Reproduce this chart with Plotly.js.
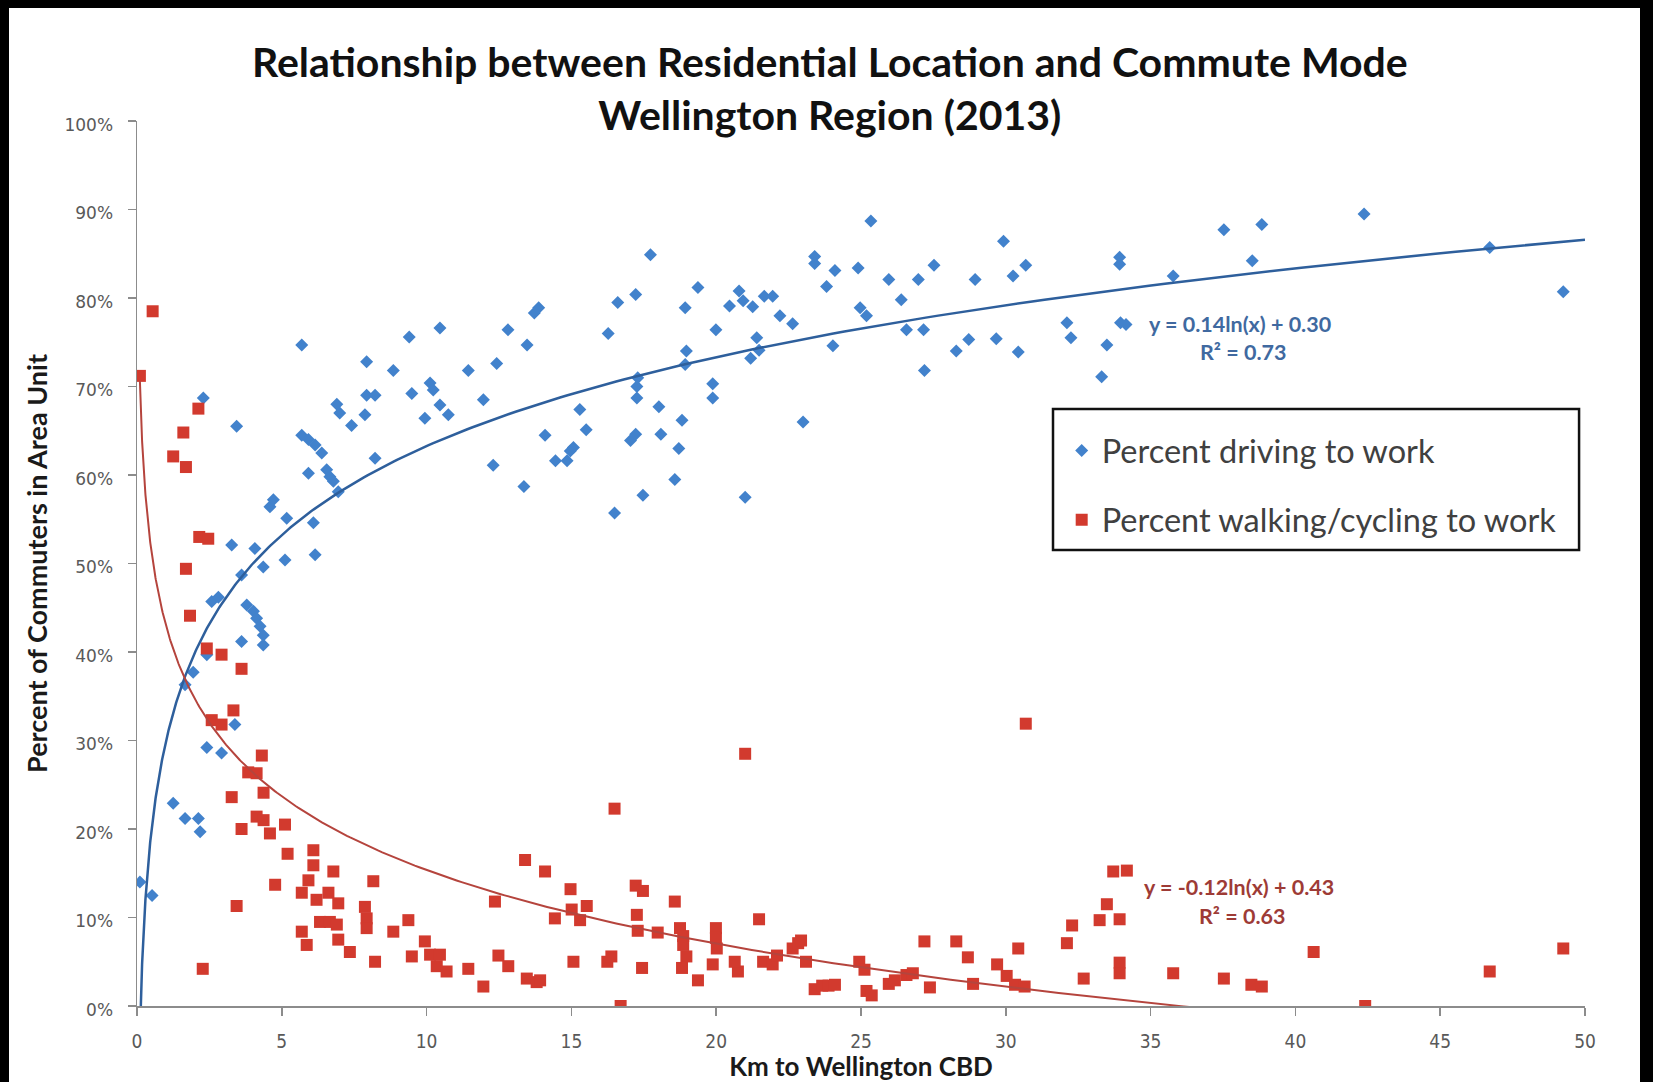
<!DOCTYPE html>
<html>
<head>
<meta charset="utf-8">
<script src="https://cdn.plot.ly/plotly-3.0.1.min.js"></script>
<style>
  html, body { margin: 0; padding: 0; background: #000; width: 1653px; height: 1082px; overflow: hidden; }
  #sheet { position: absolute; left: 9px; top: 8px; width: 1631px; height: 1074px; background: #fff; }
  #chart { position: absolute; left: 0; top: 0; width: 1653px; height: 1082px; }
</style>
</head>
<body>
<div id="sheet"></div>
<div id="chart"></div>
<script>
// Distance of each area unit from the Wellington CBD (km) and share of commuters who drive
const driveKm = [
  0.10, 0.52, 1.25, 1.66, 2.12, 2.18, 1.66, 1.94, 2.41, 2.92, 3.38, 2.41, 3.61, 4.36, 3.79, 4.02,
  4.13, 4.25, 4.36, 2.58, 2.81, 3.61, 3.27, 4.36, 4.07, 5.11, 6.15, 6.09, 5.17, 4.59, 4.71, 5.69,
  5.92, 6.15, 6.38, 5.92, 6.55, 6.66, 6.78, 6.95, 2.29, 3.44, 5.69, 6.90, 7.00, 7.41, 7.87, 7.93,
  8.22, 7.93, 8.85, 9.40, 9.49, 10.12, 10.23, 9.94, 10.46, 10.75, 10.46, 11.44, 11.96, 12.42, 12.30, 8.22,
  12.81, 13.47, 13.36, 13.72, 13.87, 14.09, 14.45, 14.85, 14.96, 15.07, 15.29, 15.51, 16.27, 16.49, 16.60, 17.22,
  17.04, 17.22, 17.26, 17.29, 17.26, 17.47, 17.73, 18.02, 18.09, 18.57, 18.71, 18.82, 18.93, 18.97, 18.93, 19.37,
  19.88, 19.88, 19.99, 20.46, 20.79, 20.93, 21.00, 21.26, 21.19, 21.40, 21.48, 21.66, 21.95, 22.20, 22.64, 23.00,
  23.40, 23.40, 23.81, 24.03, 24.10, 24.90, 24.97, 25.19, 25.34, 25.96, 26.39, 26.57, 27.16, 26.98, 27.19, 27.52,
  28.29, 28.72, 28.94, 29.67, 29.92, 30.25, 30.43, 30.69, 32.11, 32.25, 33.31, 33.49, 33.93, 33.93, 33.96, 34.15,
  35.78, 37.53, 38.51, 38.84, 42.37, 46.71, 49.25
];
const drivePct = [
  0.140, 0.125, 0.229, 0.212, 0.212, 0.197, 0.363, 0.377, 0.292, 0.286, 0.318, 0.397, 0.412, 0.408, 0.453, 0.446,
  0.438, 0.429, 0.419, 0.457, 0.462, 0.487, 0.521, 0.496, 0.517, 0.504, 0.510, 0.546, 0.551, 0.564, 0.572, 0.645,
  0.640, 0.634, 0.625, 0.602, 0.606, 0.598, 0.593, 0.581, 0.687, 0.655, 0.747, 0.680, 0.670, 0.656, 0.668, 0.690,
  0.690, 0.728, 0.718, 0.756, 0.692, 0.704, 0.696, 0.664, 0.679, 0.668, 0.766, 0.718, 0.685, 0.726, 0.611, 0.619,
  0.764, 0.747, 0.587, 0.783, 0.789, 0.645, 0.616, 0.616, 0.627, 0.631, 0.674, 0.651, 0.760, 0.557, 0.795, 0.804,
  0.639, 0.646, 0.700, 0.710, 0.687, 0.577, 0.849, 0.677, 0.646, 0.595, 0.630, 0.662, 0.725, 0.740, 0.789, 0.812,
  0.703, 0.687, 0.764, 0.791, 0.808, 0.797, 0.575, 0.790, 0.732, 0.755, 0.741, 0.802, 0.802, 0.780, 0.771, 0.660,
  0.847, 0.839, 0.813, 0.746, 0.831, 0.834, 0.789, 0.780, 0.887, 0.821, 0.798, 0.764, 0.764, 0.821, 0.718, 0.837,
  0.740, 0.753, 0.821, 0.754, 0.864, 0.825, 0.739, 0.837, 0.772, 0.755, 0.711, 0.747, 0.846, 0.838, 0.772, 0.770,
  0.825, 0.877, 0.842, 0.883, 0.895, 0.857, 0.807
];

// Same area units: share of commuters who walk or cycle
const walkKm = [
  0.54, 0.10, 2.12, 1.60, 1.25, 1.69, 2.15, 2.46, 1.69, 1.83, 2.41, 2.92, 3.61, 3.33, 2.58, 2.92,
  4.31, 3.84, 4.13, 4.37, 3.27, 4.13, 4.37, 3.61, 4.59, 5.11, 5.20, 6.09, 6.09, 6.78, 5.92, 4.77,
  8.16, 5.69, 6.61, 6.20, 6.95, 3.44, 7.87, 12.36, 14.97, 13.40, 14.09, 6.32, 6.66, 6.90, 7.93, 7.93,
  9.37, 8.85, 5.69, 5.86, 6.95, 7.35, 8.22, 9.94, 14.43, 15.01, 15.53, 15.30, 9.49, 10.12, 10.46, 10.35,
  10.69, 11.44, 11.96, 12.48, 12.82, 13.46, 13.80, 13.92, 15.07, 2.27,
  16.49, 21.00, 30.69, 16.70, 42.41, 16.24, 16.38, 17.22, 17.47, 17.26, 17.29, 17.44, 17.98, 18.57, 18.75, 18.86,
  18.86, 18.97, 18.82, 19.37, 19.99, 19.99, 20.02, 19.88, 20.75, 20.64, 21.48, 21.62, 21.95, 22.10, 22.64, 22.83,
  22.93, 23.10, 23.40, 23.66, 23.88, 24.10, 24.94, 25.12, 25.19, 25.37, 25.96, 26.17, 26.57, 26.79, 27.19, 27.38,
  28.29, 28.69, 28.87, 29.70, 30.03, 30.32, 30.65, 30.43, 32.11, 32.29, 32.69, 33.24, 33.49, 33.71, 34.18, 33.93,
  33.93, 33.93, 35.78, 37.53, 38.48, 38.84, 40.63, 46.71, 49.25
];
const walkPct = [
  0.785, 0.712, 0.675, 0.648, 0.621, 0.609, 0.530, 0.528, 0.494, 0.441, 0.404, 0.397, 0.381, 0.334, 0.323, 0.318,
  0.283, 0.264, 0.263, 0.241, 0.236, 0.214, 0.210, 0.200, 0.195, 0.205, 0.172, 0.176, 0.159, 0.152, 0.142, 0.137,
  0.141, 0.128, 0.128, 0.120, 0.116, 0.113, 0.112, 0.118, 0.132, 0.165, 0.152, 0.095, 0.095, 0.092, 0.099, 0.088,
  0.097, 0.084, 0.084, 0.069, 0.075, 0.061, 0.050, 0.073, 0.099, 0.109, 0.113, 0.097, 0.056, 0.058, 0.058, 0.045,
  0.039, 0.042, 0.022, 0.057, 0.045, 0.031, 0.027, 0.029, 0.050, 0.042,
  0.223, 0.285, 0.319, 0.000, 0.000, 0.050, 0.056, 0.136, 0.130, 0.103, 0.085, 0.043, 0.083, 0.118, 0.088, 0.079,
  0.069, 0.056, 0.043, 0.029, 0.088, 0.077, 0.065, 0.047, 0.039, 0.050, 0.098, 0.050, 0.047, 0.057, 0.065, 0.071,
  0.074, 0.050, 0.019, 0.023, 0.023, 0.024, 0.050, 0.041, 0.017, 0.012, 0.025, 0.029, 0.035, 0.037, 0.073, 0.021,
  0.073, 0.055, 0.025, 0.047, 0.034, 0.024, 0.022, 0.065, 0.071, 0.091, 0.031, 0.097, 0.115, 0.152, 0.153, 0.098,
  0.049, 0.037, 0.037, 0.031, 0.024, 0.022, 0.061, 0.039, 0.065
];

// Logarithmic trendlines y = slope * ln(x) + intercept
const driveFit = { slope: 0.1449, intercept: 0.299, r2: 0.73 };
const walkFit = { slope: -0.12, intercept: 0.43, r2: 0.63 };

const seriesNames = ['Percent driving to work', 'Percent walking/cycling to work'];
const titleLines = ['Relationship between Residential Location and Commute Mode', 'Wellington Region (2013)'];
const xTitle = 'Km to Wellington CBD';
const yTitle = 'Percent of Commuters in Area Unit';
const xMax = 50;

function logCurve(fit, xStart, xEnd, n) {
  const xs = [], ys = [];
  for (let i = 0; i < n; i++) {
    const x = xStart * Math.pow(xEnd / xStart, i / (n - 1));
    xs.push(x);
    ys.push(fit.slope * Math.log(x) + fit.intercept);
  }
  return { xs, ys };
}

function equationText(fit) {
  return 'y = ' + fit.slope.toFixed(2) + 'ln(x) + ' + fit.intercept.toFixed(2);
}

const driveCurve = logCurve(driveFit, Math.min(...driveKm), xMax, 400);
const walkCurve = logCurve(walkFit, Math.min(...walkKm), xMax, 400);

const BLUE = '#4282cc';
const RED = '#d23a2e';
const labelFont = 'Lato, "Open Sans", sans-serif';

const traces = [
  {
    x: driveKm, y: drivePct, type: 'scatter', mode: 'markers', name: seriesNames[0],
    legendgroup: 'drive',
    marker: { symbol: 'diamond', size: 10, color: BLUE, line: { width: 0 } },
    hoverinfo: 'x+y'
  },
  {
    x: walkKm, y: walkPct, type: 'scatter', mode: 'markers', name: seriesNames[1],
    legendgroup: 'walk',
    marker: { symbol: 'square', size: 12, color: RED, line: { width: 0 } },
    hoverinfo: 'x+y'
  },
  {
    x: driveCurve.xs, y: driveCurve.ys, type: 'scatter', mode: 'lines', showlegend: false,
    line: { color: '#2e5f9c', width: 2.5 }, hoverinfo: 'skip'
  },
  {
    x: walkCurve.xs, y: walkCurve.ys, type: 'scatter', mode: 'lines', showlegend: false,
    line: { color: '#b5443d', width: 2 }, hoverinfo: 'skip'
  }
];

const axisGrey = '#8c8c8c';

const layout = {
  width: 1653,
  height: 1082,
  paper_bgcolor: 'rgba(0,0,0,0)',
  plot_bgcolor: '#ffffff',
  margin: { l: 137, r: 68, t: 121, b: 76 },
  title: {
    text: titleLines.join('<br>'),
    x: 0.502, xref: 'container', xanchor: 'center',
    y: 0.929, yref: 'container', yanchor: 'top',
    font: { family: labelFont, size: 41, weight: 700, color: '#111111' }
  },
  xaxis: {
    range: [0, xMax], tick0: 0, dtick: 5,
    showgrid: false, zeroline: false,
    showline: true, linecolor: axisGrey, linewidth: 1.5,
    ticks: 'outside', ticklen: 8, tickwidth: 1.5, tickcolor: axisGrey,
    ticklabelstandoff: 10,
    tickfont: { family: '"Liberation Sans Narrow", "DejaVu Sans Condensed", sans-serif', size: 19, color: '#595959' },
    title: { text: xTitle, standoff: 5, font: { family: labelFont, size: 26, weight: 700, color: '#1a1a1a' } }
  },
  yaxis: {
    range: [0, 1], tick0: 0, dtick: 0.1, tickformat: '.0%',
    showgrid: false, zeroline: false,
    showline: true, linecolor: axisGrey, linewidth: 1.5,
    ticks: 'outside', ticklen: 8, tickwidth: 1.5, tickcolor: axisGrey,
    ticklabelstandoff: 11, ticklabelshift: 4,
    tickfont: { family: '"DejaVu Sans", sans-serif', size: 17, color: '#595959' },
    title: { text: yTitle, standoff: 9, font: { family: labelFont, size: 27, weight: 700, color: '#1a1a1a' } }
  },
  showlegend: true,
  legend: {
    x: 0.6386, xanchor: 'left', y: 0.659, yanchor: 'top',
    bgcolor: 'rgba(0,0,0,0)', borderwidth: 0,
    traceorder: 'grouped', tracegroupgap: 24,
    font: { family: labelFont, size: 32.5, color: '#404040' },
    itemclick: false, itemdoubleclick: false
  },
  shapes: [
    {
      type: 'rect', xref: 'paper', yref: 'paper',
      x0: 0.6326, x1: 0.9959, y0: 0.5153, y1: 0.6746,
      line: { color: '#111111', width: 2.5 }, fillcolor: '#ffffff', layer: 'above'
    }
  ],
  annotations: [
    { text: equationText(driveFit), x: 0.762, y: 0.771, xref: 'paper', yref: 'paper', showarrow: false,
      xanchor: 'center', yanchor: 'middle', font: { family: labelFont, size: 21.5, weight: 700, color: '#4069a0' } },
    { text: 'R² = ' + driveFit.r2.toFixed(2), x: 0.764, y: 0.739, xref: 'paper', yref: 'paper', showarrow: false,
      xanchor: 'center', yanchor: 'middle', font: { family: labelFont, size: 21.5, weight: 700, color: '#4069a0' } },
    { text: equationText(walkFit), x: 0.761, y: 0.134, xref: 'paper', yref: 'paper', showarrow: false,
      xanchor: 'center', yanchor: 'middle', font: { family: labelFont, size: 21.5, weight: 700, color: '#9e3b36' } },
    { text: 'R² = ' + walkFit.r2.toFixed(2), x: 0.763, y: 0.102, xref: 'paper', yref: 'paper', showarrow: false,
      xanchor: 'center', yanchor: 'middle', font: { family: labelFont, size: 21.5, weight: 700, color: '#9e3b36' } }
  ]
};

Plotly.newPlot('chart', traces, layout, { displayModeBar: false, staticPlot: true });
</script>
</body>
</html>
